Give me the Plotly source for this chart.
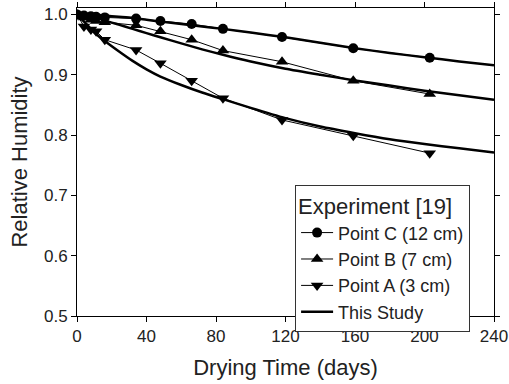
import plotly.graph_objects as go

# Experimental data (Experiment [19])
days_exp = [0, 4, 8, 11, 16, 34, 48, 66, 84, 118, 159, 203]
point_c = [1.000, 0.998, 0.997, 0.996, 0.995, 0.993, 0.989, 0.984, 0.976, 0.9625, 0.944, 0.928]
point_b = [1.000, 0.995, 0.991, 0.989, 0.987, 0.982, 0.972, 0.958, 0.940, 0.9215, 0.890, 0.868]
point_a = [1.000, 0.980, 0.975, 0.972, 0.958, 0.941, 0.919, 0.890, 0.861, 0.825, 0.799, 0.770]

# Model ("This Study")
days_model = [0, 5, 10, 16, 24, 32, 40, 48, 60, 72, 84, 100, 120, 140, 160, 180, 200, 220, 240]
model_c = [1.000, 1.000, 0.999, 0.998, 0.996, 0.994, 0.991, 0.988, 0.984, 0.980, 0.976, 0.970, 0.962, 0.953, 0.944, 0.936, 0.929, 0.922, 0.9155]
model_b = [1.000, 0.999, 0.996, 0.990, 0.983, 0.976, 0.969, 0.962, 0.952, 0.942, 0.933, 0.922, 0.910, 0.900, 0.8905, 0.882, 0.8735, 0.866, 0.8585]
model_a = [1.000, 0.985, 0.970, 0.956, 0.939, 0.923, 0.909, 0.897, 0.883, 0.8705, 0.8595, 0.845, 0.828, 0.814, 0.803, 0.793, 0.785, 0.778, 0.771]

fig = go.Figure()

exp_series = [
    ("Point C (12 cm)", point_c, "circle", 10),
    ("Point B (7 cm)", point_b, "triangle-up", 11),
    ("Point A (3 cm)", point_a, "triangle-down", 11),
]
for name, ys, sym, size in exp_series:
    fig.add_trace(go.Scatter(
        x=days_exp, y=ys, name=name, mode="lines+markers",
        line=dict(color="black", width=1),
        marker=dict(symbol=sym, size=size, color="black"),
    ))

for i, ys in enumerate([model_c, model_b, model_a]):
    fig.add_trace(go.Scatter(
        x=days_model, y=ys, name="This Study", mode="lines",
        line=dict(color="black", width=2.5, shape="spline", smoothing=0.6),
        legendgroup="model", showlegend=(i == 0),
    ))

font_family = "Liberation Sans, Arial, sans-serif"

fig.update_layout(
    width=509, height=384,
    margin=dict(l=77, r=15, t=8, b=68, autoexpand=False),
    paper_bgcolor="white", plot_bgcolor="white",
    font=dict(family=font_family, size=18, color="#222"),
    showlegend=True,
    legend=dict(
        title=dict(text="Experiment [19]"),
        x=0.523, y=0.426, xanchor="left", yanchor="top",
        bordercolor="#333", borderwidth=1, bgcolor="white",
        tracegroupgap=0,
        itemwidth=32,
    ),
    xaxis=dict(
        range=[0, 240], tickvals=[0, 40, 80, 120, 160, 200, 240],
        showgrid=False, zeroline=False, automargin=False,
        ticklabeloverflow="allow",
        tickfont=dict(family=font_family, size=17, color="#222"),
        showline=True, linecolor="black", linewidth=1, mirror="ticks",
        ticks="outside", ticklen=5, tickcolor="black",
        title=dict(text="Drying Time (days)", standoff=14),
    ),
    yaxis=dict(
        range=[0.5, 1.0106], tickvals=[0.5, 0.6, 0.7, 0.8, 0.9, 1.0],
        tickformat=".1f", automargin=False,
        tickfont=dict(family=font_family, size=17, color="#222"),
        showgrid=False, zeroline=False,
        showline=True, linecolor="black", linewidth=1, mirror="ticks",
        ticks="outside", ticklen=5, tickcolor="black",
        title=dict(text="Relative Humidity", standoff=10),
    ),
)

fig.write_html("out.html")
